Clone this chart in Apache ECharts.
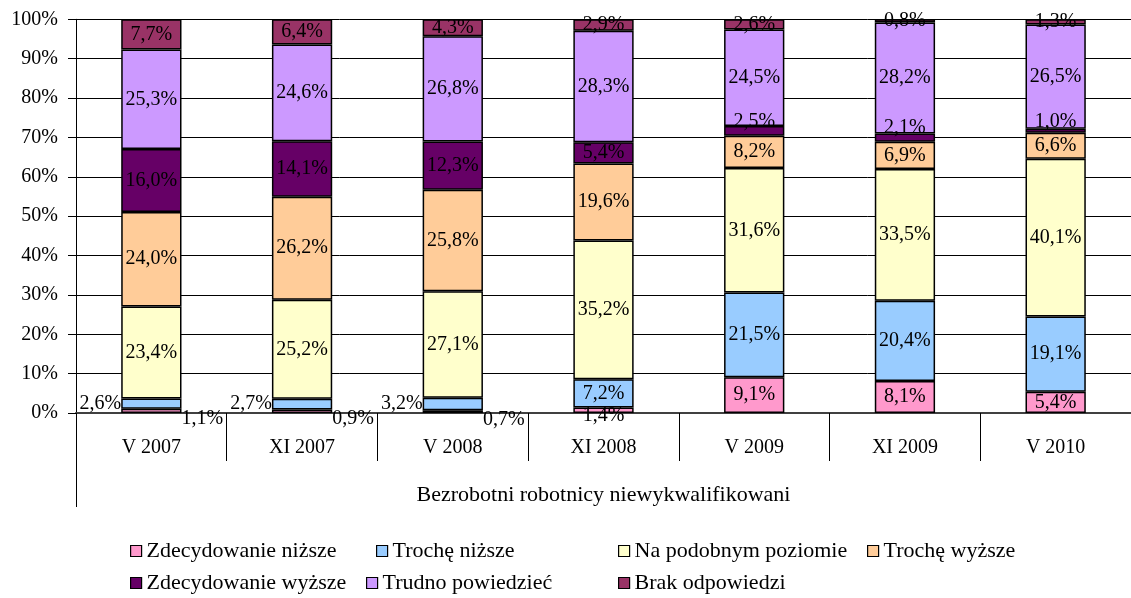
<!DOCTYPE html>
<html>
<head>
<meta charset="utf-8">
<script src="https://cdn.jsdelivr.net/npm/echarts@6/dist/echarts.min.js"></script>
<style>
html,body{margin:0;padding:0;background:#fff;}
#chart{width:1131px;height:598px;}
</style>
</head>
<body>
<div id="chart"></div>
<script>
// ---- data ----
const categories = ['V 2007', 'XI 2007', 'V 2008', 'XI 2008', 'V 2009', 'XI 2009', 'V 2010'];
const groupLabel = 'Bezrobotni robotnicy niewykwalifikowani';
const seriesNames = ['Zdecydowanie niższe', 'Trochę niższe', 'Na podobnym poziomie', 'Trochę wyższe', 'Zdecydowanie wyższe', 'Trudno powiedzieć', 'Brak odpowiedzi'];
const zdecydowanieNizsze = [1.1, 0.9, 0.7, 1.4, 9.1, 8.1, 5.4];
const trocheNizsze = [2.6, 2.7, 3.2, 7.2, 21.5, 20.4, 19.1];
const naPodobnymPoziomie = [23.4, 25.2, 27.1, 35.2, 31.6, 33.5, 40.1];
const trocheWyzsze = [24.0, 26.2, 25.8, 19.6, 8.2, 6.9, 6.6];
const zdecydowanieWyzsze = [16.0, 14.1, 12.3, 5.4, 2.5, 2.1, 1.0];
const trudnoPowiedziec = [25.3, 24.6, 26.8, 28.3, 24.5, 28.2, 26.5];
const brakOdpowiedzi = [7.7, 6.4, 4.3, 2.9, 2.6, 0.8, 1.3];
const yTicks = [0, 10, 20, 30, 40, 50, 60, 70, 80, 90, 100];

// ---- styles ----
const colors = ['#FF99CC', '#99CCFF', '#FFFFCC', '#FFCC99', '#660066', '#CC99FF', '#993366'];
const FONT = "'Liberation Serif', 'Times New Roman', serif";
const FS = 20;
const FS_BIG = 22;
const allValues = [zdecydowanieNizsze, trocheNizsze, naPodobnymPoziomie, trocheWyzsze, zdecydowanieWyzsze, trudnoPowiedziec, brakOdpowiedzi];
const totals = categories.map((c, i) => allValues.reduce((s, arr) => s + arr[i], 0));

// special label placements (seriesIndex-categoryIndex)
const labelPlacement = {
  '1-0': {position: 'left', distance: 0},
  '1-1': {position: 'left', distance: 0},
  '1-2': {position: 'left', distance: 0},
  '0-0': {position: 'right', distance: 0, offset: [0, 8]},
  '0-1': {position: 'right', distance: 0, offset: [0, 8]},
  '0-2': {position: 'right', distance: 0, offset: [0, 8]},
  '0-3': {position: 'inside', offset: [0, 6]},
  '4-4': {position: 'inside', offset: [0, -9]},
  '4-5': {position: 'inside', offset: [0, -10]},
  '4-6': {position: 'inside', offset: [0, -9]}
};

const fmt = v => v.toFixed(1).replace('.', ',') + '%';

const series = allValues.map((arr, si) => ({
  name: seriesNames[si],
  type: 'bar',
  stack: 'total',
  barWidth: '40%',
  itemStyle: {color: colors[si], borderColor: '#000', borderWidth: 1.5},
  label: {
    show: true,
    position: 'inside',
    color: '#000',
    fontFamily: FONT,
    fontSize: FS,
    formatter: p => fmt(arr[p.dataIndex])
  },
  emphasis: {disabled: true},
  data: arr.map((v, ci) => {
    const item = {value: v / totals[ci] * 100};
    const pl = labelPlacement[si + '-' + ci];
    if (pl) item.label = pl;
    return item;
  })
}));

const legendPos = [
  {left: 130, top: 540},
  {left: 376, top: 540},
  {left: 618, top: 540},
  {left: 867, top: 540},
  {left: 130, top: 572},
  {left: 366, top: 572},
  {left: 618, top: 572}
];

const legends = seriesNames.map((n, i) => ({
  data: [n],
  left: legendPos[i].left,
  top: legendPos[i].top,
  padding: 0,
  itemWidth: 11,
  itemHeight: 11,
  icon: 'rect',
  itemStyle: {borderColor: '#000', borderWidth: 1.2},
  textStyle: {fontFamily: FONT, fontSize: FS_BIG, color: '#000', padding: [0, 0, 0, 0]},
  selectedMode: false
}));

const chart = echarts.init(document.getElementById('chart'));
chart.setOption({
  animation: false,
  backgroundColor: '#fff',
  textStyle: {fontFamily: FONT},
  grid: {left: 76, top: 19.3, width: 1067.5, height: 393.7, containLabel: false},
  legend: legends,
  xAxis: [
    {
      type: 'category',
      data: categories,
      position: 'bottom',
      axisLine: {show: true, lineStyle: {color: '#404040', width: 2}},
      axisTick: {show: true, interval: 0, length: 48, lineStyle: {color: '#000', width: 1}},
      axisLabel: {interval: 0, margin: 25, color: '#000', fontFamily: FONT, fontSize: FS},
      splitLine: {show: false}
    },
    {
      type: 'category',
      data: [groupLabel],
      position: 'bottom',
      axisLine: {show: false},
      axisTick: {show: true, interval: 0, length: 94, lineStyle: {color: '#000', width: 1}},
      axisLabel: {interval: 0, margin: 71, color: '#000', fontFamily: FONT, fontSize: FS_BIG},
      splitLine: {show: false}
    }
  ],
  yAxis: {
    type: 'value',
    min: yTicks[0],
    max: yTicks[yTicks.length - 1],
    interval: yTicks[1] - yTicks[0],
    axisLine: {show: true, lineStyle: {color: '#000', width: 1}},
    axisTick: {show: true, length: 8, lineStyle: {color: '#000'}},
    axisLabel: {formatter: '{value}%', margin: 18, color: '#000', fontFamily: FONT, fontSize: FS},
    splitLine: {show: true, lineStyle: {color: '#000', width: 1}}
  },
  series: series
});
</script>
</body>
</html>
